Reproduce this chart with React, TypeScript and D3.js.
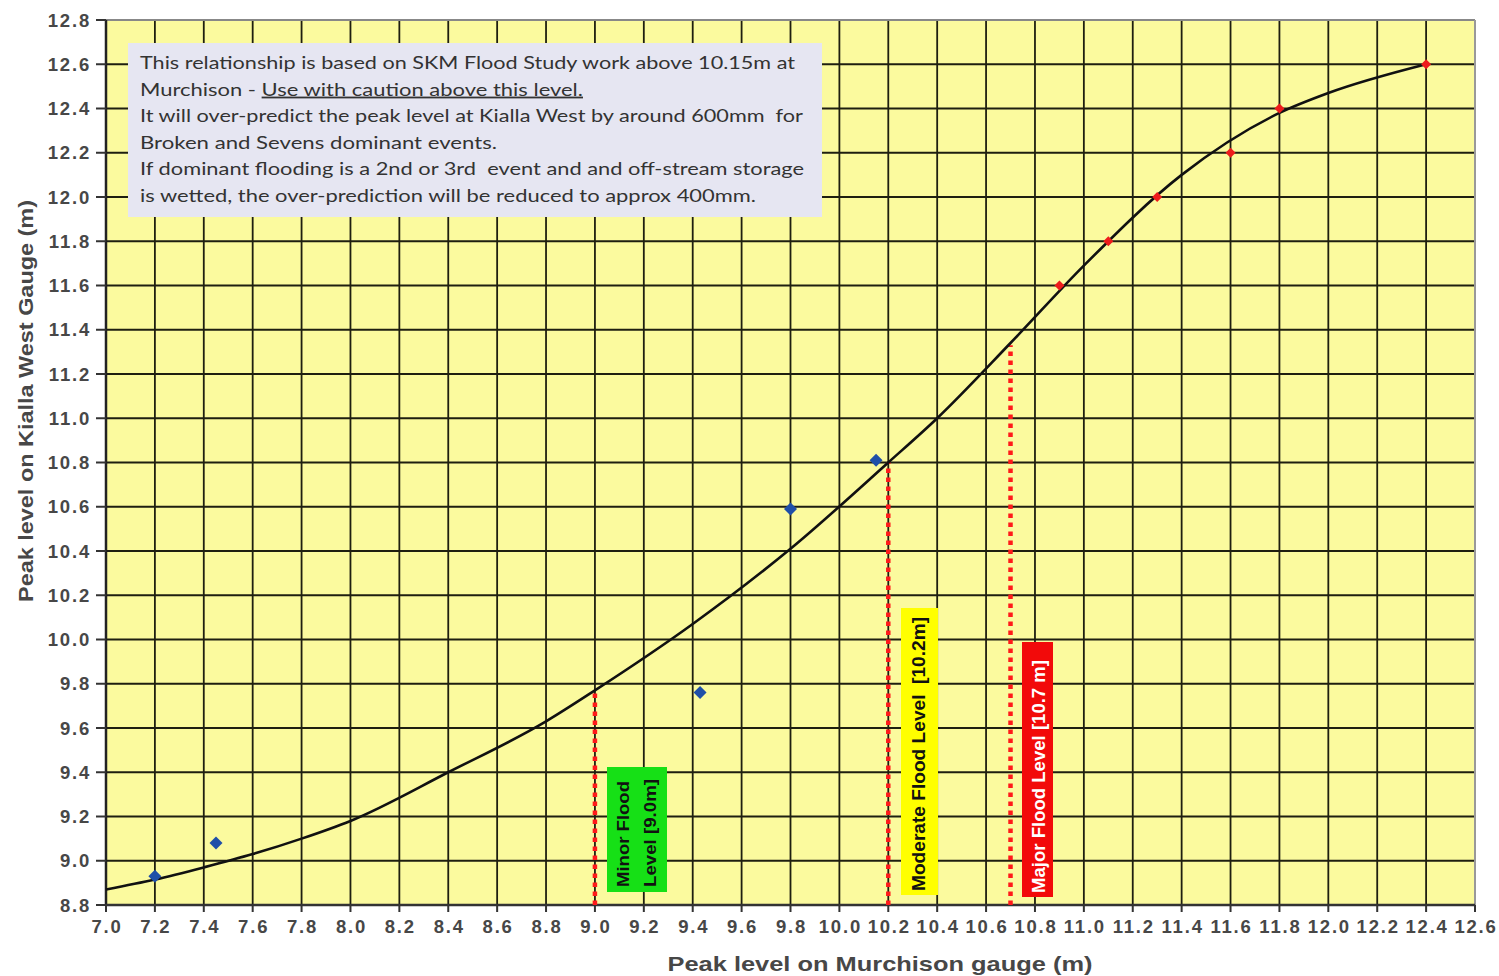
import React from "react";
import * as d3 from "d3";

const xTicks = [7.0, 7.2, 7.4, 7.6, 7.8, 8.0, 8.2, 8.4, 8.6, 8.8, 9.0, 9.2, 9.4, 9.6, 9.8, 10.0, 10.2, 10.4, 10.6, 10.8, 11.0, 11.2, 11.4, 11.6, 11.8, 12.0, 12.2, 12.4, 12.6];
const yTicks = [8.8, 9.0, 9.2, 9.4, 9.6, 9.8, 10.0, 10.2, 10.4, 10.6, 10.8, 11.0, 11.2, 11.4, 11.6, 11.8, 12.0, 12.2, 12.4, 12.6, 12.8];

// fitted relationship curve
const curveX = [7.0, 7.2, 7.4, 7.6, 7.8, 8.0, 8.4, 8.8, 9.0, 9.4, 9.8, 10.2, 10.4, 10.7, 11.0, 11.4, 11.8, 12.0, 12.4];
const curveY = [8.87, 8.915, 8.97, 9.03, 9.1, 9.18, 9.4, 9.63, 9.77, 10.07, 10.41, 10.8, 11.0, 11.34, 11.69, 12.1, 12.38, 12.47, 12.6];

// observed events (blue)
const obsX = [7.2, 7.45, 9.43, 9.8, 10.15];
const obsY = [8.93, 9.08, 9.76, 10.59, 10.81];

// SKM flood study (red)
const skmX = [10.9, 11.1, 11.3, 11.6, 11.8, 12.4];
const skmY = [11.6, 11.8, 12.0, 12.2, 12.4, 12.6];

// flood levels
const floodX = [9.0, 10.2, 10.7];
const floodTopY = [9.77, 10.8, 11.33];

const noteLines = [
  "This relationship is based on SKM Flood Study work above 10.15m at",
  "Murchison - ",
  "It will over-predict the peak level at Kialla West by around 600mm  for",
  "Broken and Sevens dominant events.",
  "If dominant flooding is a 2nd or 3rd  event and and off-stream storage",
  "is wetted, the over-prediction will be reduced to approx 400mm.",
];
const noteUnderline = "Use with caution above this level.";
const noteWidths = [655, 443, 663, 357, 664, 616];

export default function App() {
  const x = d3.scaleLinear().domain([7.0, 12.6]).range([106, 1475]);
  const y = d3.scaleLinear().domain([8.8, 12.8]).range([905, 20]);
  const pts = curveX.map((v, i) => [v, curveY[i]] as [number, number]);
  const line = d3
    .line<[number, number]>()
    .x((d) => x(d[0]))
    .y((d) => y(d[1]))
    .curve(d3.curveMonotoneX);

  const tickFont = { fontFamily: "'Liberation Sans', Arial, sans-serif", fontWeight: 700, fontSize: 18.5, letterSpacing: 1.8, fill: "#474747" } as const;
  const diamond = (cx: number, cy: number, r: number) =>
    `M${cx},${cy - r}L${cx + r},${cy}L${cx},${cy + r}L${cx - r},${cy}Z`;

  return (
    <svg width={1499} height={976} style={{ position: "absolute", left: 0, top: 0, background: "#fff" }}>
      <rect x={x(7.0)} y={y(12.8)} width={x(12.6) - x(7.0)} height={y(8.8) - y(12.8)} fill="#fbfa9e" />
      {/* grid */}
      {xTicks.map((t) => (
        <line key={"gx" + t} x1={x(t)} x2={x(t)} y1={y(8.8)} y2={y(12.8)} stroke="#1e1e10" strokeWidth={1.8} />
      ))}
      {yTicks.map((t) => (
        <line key={"gy" + t} x1={x(7.0)} x2={x(12.6)} y1={y(t)} y2={y(t)} stroke="#1e1e10" strokeWidth={1.8} />
      ))}
      <line x1={x(7.0)} x2={x(12.6)} y1={y(12.8)} y2={y(12.8)} stroke="#888" strokeWidth={2} />
      <line x1={x(12.6)} x2={x(12.6)} y1={y(12.8)} y2={y(8.8)} stroke="#999" strokeWidth={2} />
      {/* axes */}
      <line x1={x(7.0)} x2={x(7.0)} y1={y(12.8)} y2={y(8.8)} stroke="#222" strokeWidth={2.5} />
      <line x1={x(7.0)} x2={x(12.6)} y1={y(8.8)} y2={y(8.8)} stroke="#333" strokeWidth={2.5} />
      {yTicks.map((t) => (
        <g key={"yt" + t}>
          <line x1={x(7.0) - 10} x2={x(7.0)} y1={y(t)} y2={y(t)} stroke="#333" strokeWidth={2} />
          <text x={91} y={y(t) + 6.5} textAnchor="end" {...tickFont}>
            {t.toFixed(1)}
          </text>
        </g>
      ))}
      {xTicks.map((t) => (
        <g key={"xt" + t}>
          <line x1={x(t)} x2={x(t)} y1={y(8.8)} y2={y(8.8) + 7} stroke="#333" strokeWidth={2} />
          <text x={x(t) + 1} y={933} textAnchor="middle" {...tickFont}>
            {t.toFixed(1)}
          </text>
        </g>
      ))}
      {/* axis titles */}
      <text x={880} y={971} textAnchor="middle" fontFamily="'Liberation Sans', Arial, sans-serif" fontWeight={700} fontSize={21} fill="#474747" textLength={425} lengthAdjust="spacingAndGlyphs">
        Peak level on Murchison gauge (m)
      </text>
      <text transform="translate(33,401) rotate(-90)" textAnchor="middle" fontFamily="'Liberation Sans', Arial, sans-serif" fontWeight={700} fontSize={21} fill="#474747" textLength={402} lengthAdjust="spacingAndGlyphs">
        Peak level on Kialla West Gauge (m)
      </text>
      {/* note box */}
      <rect x={128} y={43} width={694} height={174} fill="#e6e6f2" />
      <g fontFamily="Lato, 'Open Sans', sans-serif" fontSize={18} fill="#333">
        {noteLines.map((l, i) => (
          <text key={"n" + i} x={140} y={69 + i * 26.6} textLength={noteWidths[i]} lengthAdjust="spacingAndGlyphs" style={{ whiteSpace: "pre" }}>
            {l}
            {i === 1 ? <tspan textDecoration="underline">{noteUnderline}</tspan> : null}
          </text>
        ))}
      </g>
      {/* flood level lines */}
      {floodX.map((f, i) => (
        <line key={"fl" + i} x1={x(f)} x2={x(f)} y1={y(8.8)} y2={y(floodTopY[i])} stroke="#ff1a1a" strokeWidth={4.5} strokeDasharray="4.5 4.5" />
      ))}
      {/* curve */}
      <path d={line(pts) || ""} fill="none" stroke="#111" strokeWidth={2.6} />
      {/* points */}
      {obsX.map((v, i) => (
        <path key={"o" + i} d={diamond(x(v), y(obsY[i]), 6.5)} fill="#1f4fa8" />
      ))}
      {skmX.map((v, i) => (
        <path key={"s" + i} d={diamond(x(v), y(skmY[i]), 5)} fill="#ee1c1c" />
      ))}
      {/* flood labels */}
      <rect x={607} y={767} width={60} height={125} fill="#16e016" />
      <g fontFamily="'Liberation Sans', Arial, sans-serif" fontWeight={700} fontSize={17} fill="#111">
        <text transform="translate(623,887) rotate(-90)" dominantBaseline="central" textLength={106} lengthAdjust="spacingAndGlyphs">
          Minor Flood
        </text>
        <text transform="translate(650,887) rotate(-90)" dominantBaseline="central" textLength={108} lengthAdjust="spacingAndGlyphs">
          Level [9.0m]
        </text>
      </g>
      <rect x={901} y={608} width={37} height={287} fill="#ffff00" />
      <text transform="translate(919,891) rotate(-90)" dominantBaseline="central" fontFamily="'Liberation Sans', Arial, sans-serif" fontWeight={700} fontSize={18} fill="#111" textLength={274} lengthAdjust="spacingAndGlyphs" style={{ whiteSpace: "pre" }}>
        {"Moderate Flood Level  [10.2m]"}
      </text>
      <rect x={1022} y={642} width={31} height={255} fill="#f20a0a" />
      <text transform="translate(1039,893) rotate(-90)" dominantBaseline="central" fontFamily="'Liberation Sans', Arial, sans-serif" fontWeight={700} fontSize={18} fill="#fff" textLength={233} lengthAdjust="spacingAndGlyphs">
        Major Flood Level [10.7 m]
      </text>
    </svg>
  );
}
